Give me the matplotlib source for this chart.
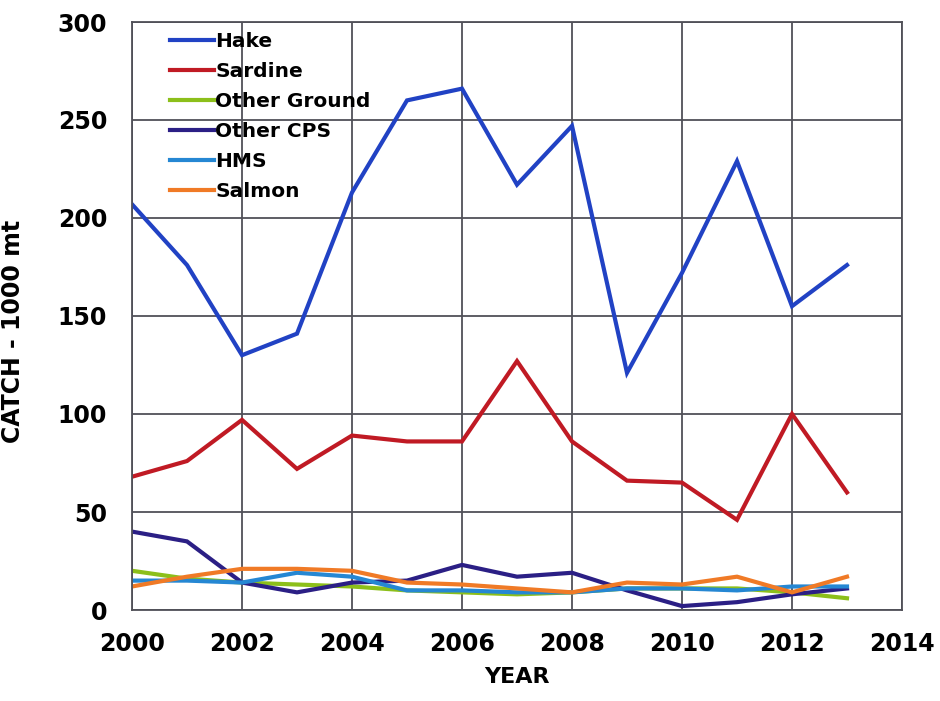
import matplotlib
matplotlib.use("Agg")
import matplotlib.pyplot as plt

years = [2000, 2001, 2002, 2003, 2004, 2005, 2006, 2007, 2008, 2009, 2010, 2011, 2012, 2013]
hake = [207, 176, 130, 141, 213, 260, 266, 217, 247, 121, 172, 229, 155, 176]
sardine = [68, 76, 97, 72, 89, 86, 86, 127, 86, 66, 65, 46, 100, 60]
other_ground = [20, 16, 14, 13, 12, 10, 9, 8, 9, 11, 11, 11, 9, 6]
other_cps = [40, 35, 14, 9, 14, 15, 23, 17, 19, 10, 2, 4, 8, 11]
hms = [15, 15, 14, 19, 17, 10, 10, 9, 9, 11, 11, 10, 12, 12]
salmon = [12, 17, 21, 21, 20, 14, 13, 11, 9, 14, 13, 17, 9, 17]

series_names = ["Hake", "Sardine", "Other Ground", "Other CPS", "HMS", "Salmon"]
series_values = [hake, sardine, other_ground, other_cps, hms, salmon]
series_colors = ["#2142C4", "#C01A24", "#8CBF1A", "#2B1F85", "#2587D3", "#F07A26"]

x_ticks = [2000, 2002, 2004, 2006, 2008, 2010, 2012, 2014]
y_ticks = [0, 50, 100, 150, 200, 250, 300]

fig = plt.figure(figsize=(9.4, 7.01), dpi=100)
ax = fig.add_axes([132/940, 1 - 610/701, (902-132)/940, (610-22)/701])

for name, vals, col in zip(series_names, series_values, series_colors):
    ax.plot(years, vals, color=col, lw=3.0, label=name, solid_joinstyle="miter")

ax.set_xlim(2000, 2014)
ax.set_ylim(0, 300)
ax.set_xticks(x_ticks)
ax.set_yticks(y_ticks)
ax.grid(True, color="#505058", lw=1.3)
ax.set_axisbelow(True)
for s in ax.spines.values():
    s.set_color("#505058")
    s.set_linewidth(1.3)
ax.tick_params(length=0)
ax.tick_params(axis="y", pad=18)
ax.tick_params(axis="x", pad=16)
for lbl in ax.get_xticklabels() + ax.get_yticklabels():
    lbl.set_fontsize(17)
    lbl.set_fontweight("bold")

ax.set_xlabel("YEAR", fontsize=16, fontweight="bold", labelpad=8)
ax.set_ylabel("CATCH - 1000 mt", fontsize=17, fontweight="bold")
ax.yaxis.set_label_coords(-0.139, 0.473)

leg = ax.legend(loc="upper left", bbox_to_anchor=(0.036, 1.0), frameon=False,
                prop={"size": 14.5, "weight": "bold"}, handlelength=2.2,
                handletextpad=0.05, labelspacing=0.55, borderaxespad=0.1)

fig.savefig("out.png", dpi=100)
